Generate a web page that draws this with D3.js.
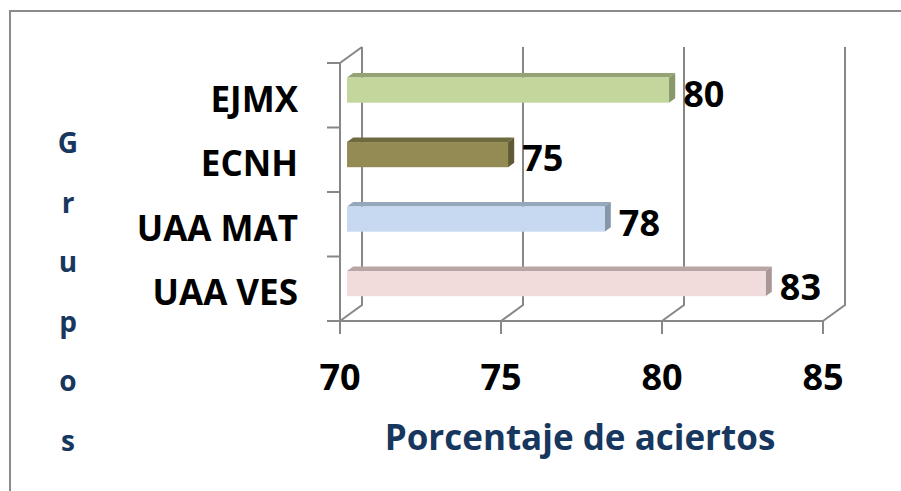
<!DOCTYPE html>
<html>
<head>
<meta charset="utf-8">
<script src="https://cdn.jsdelivr.net/npm/d3@7"></script>
<style>
  body { margin: 0; background: #fff; }
  text { font-family: "Open Sans", Lato, sans-serif; font-weight: bold; }
</style>
</head>
<body>
<svg class="chart"></svg>
<script>
// groups from top to bottom, and their scores
const groups = ["EJMX", "ECNH", "UAA MAT", "UAA VES"];
const scores = [80, 75, 78, 83];
const xTicks = [70, 75, 80, 85];
const faceColors = ["#c3d69b", "#948a54", "#c6d9f1", "#f2dcdb"];
const topColors  = ["#93a374", "#6e6a40", "#96a6bb", "#b8a6a5"];
const sideColors = ["#88986a", "#5f5a35", "#8797ab", "#a89796"];
const axisTitle = "Porcentaje de aciertos";
const sideTitle = "Grupos";

const W = 901, H = 491;
const svg = d3.select("svg.chart").attr("width", W).attr("height", H);

// the 3d box: front plane + depth offset
const x = d3.scaleLinear().domain([70, 85]).range([340, 823]);
const y = d3.scaleBand().domain(groups).range([63, 321]);
const depth = { dx: 22, dy: -16 };
const gridColor = "#878787";

// outer frame (runs off the right and bottom of the image)
svg.append("path")
  .attr("d", `M10,${H + 5} L10,11 L${W + 5},11`)
  .attr("fill", "none").attr("stroke", "#8a8a8a").attr("stroke-width", 2);

const walls = svg.append("g").attr("fill", "none").attr("stroke", gridColor).attr("stroke-width", 2);

// floor diagonals + back wall verticals at each tick
xTicks.forEach(t => {
  const x0 = x(t), y0 = y.range()[1];
  walls.append("path")
    .attr("d", `M${x0},${y0} L${x0 + depth.dx},${y0 + depth.dy} L${x0 + depth.dx},${y.range()[0] + depth.dy}`);
});
// left wall: front axis, top diagonal
walls.append("path")
  .attr("d", `M${x(70) + depth.dx},${y.range()[0] + depth.dy} L${x(70)},${y.range()[0]} L${x(70)},${y.range()[1]} L${x(85)},${y.range()[1]}`);
// tick marks
const yTickPos = [y.range()[0]].concat(groups.map(g => y(g) + y.bandwidth()));
yTickPos.forEach(p => walls.append("line").attr("x1", x(70) - 13).attr("x2", x(70)).attr("y1", p).attr("y2", p));
xTicks.forEach(t => walls.append("line").attr("x1", x(t)).attr("x2", x(t)).attr("y1", y.range()[1]).attr("y2", y.range()[1] + 13));

// bars: front face sits part way into the depth
const f0 = 0.32, f1 = 0.60;
const barH = y.bandwidth() * 0.39;
const bars = svg.append("g");
groups.forEach((g, i) => {
  const ox = depth.dx * f0, oy = depth.dy * f0;
  const bx = depth.dx * (f1 - f0), by = depth.dy * (f1 - f0);
  const cy = y(g) + y.bandwidth() / 2 + oy;
  const x0 = x(70) + ox, x1 = x(scores[i]) + ox;
  const y0 = cy - barH / 2, y1 = cy + barH / 2;
  bars.append("path").attr("fill", topColors[i])
    .attr("d", `M${x0},${y0} L${x0 + bx},${y0 + by} L${x1 + bx},${y0 + by} L${x1},${y0} Z`);
  bars.append("path").attr("fill", sideColors[i])
    .attr("d", `M${x1},${y0} L${x1 + bx},${y0 + by} L${x1 + bx},${y1 + by} L${x1},${y1} Z`);
  bars.append("rect").attr("fill", faceColors[i])
    .attr("x", x0).attr("y", y0).attr("width", x1 - x0).attr("height", barH);
  // value label
  svg.append("text")
    .attr("x", x1 + bx + 8).attr("y", cy + 3)
    .attr("dominant-baseline", "central")
    .attr("font-size", 36).attr("fill", "#000")
    .text(scores[i]);
  // category label
  svg.append("text")
    .attr("x", 298).attr("y", y(g) + y.bandwidth() / 2 + 3)
    .attr("text-anchor", "end").attr("dominant-baseline", "central")
    .attr("font-size", 35).attr("fill", "#000")
    .text(g);
});

// x tick labels
xTicks.forEach(t => svg.append("text")
  .attr("x", x(t)).attr("y", 390)
  .attr("text-anchor", "middle")
  .attr("font-size", 36).attr("fill", "#000")
  .text(t));

// axis titles
svg.append("text")
  .attr("x", 580).attr("y", 450)
  .attr("text-anchor", "middle")
  .attr("font-size", 35).attr("fill", "#17375e")
  .text(axisTitle);

const letters = sideTitle.split("");
const letterY = d3.scalePoint().domain(d3.range(letters.length)).range([153, 451]);
letters.forEach((c, i) => svg.append("text")
  .attr("x", 68).attr("y", letterY(i))
  .attr("text-anchor", "middle")
  .attr("font-size", 28).attr("fill", "#17375e")
  .text(c));
</script>
</body>
</html>
